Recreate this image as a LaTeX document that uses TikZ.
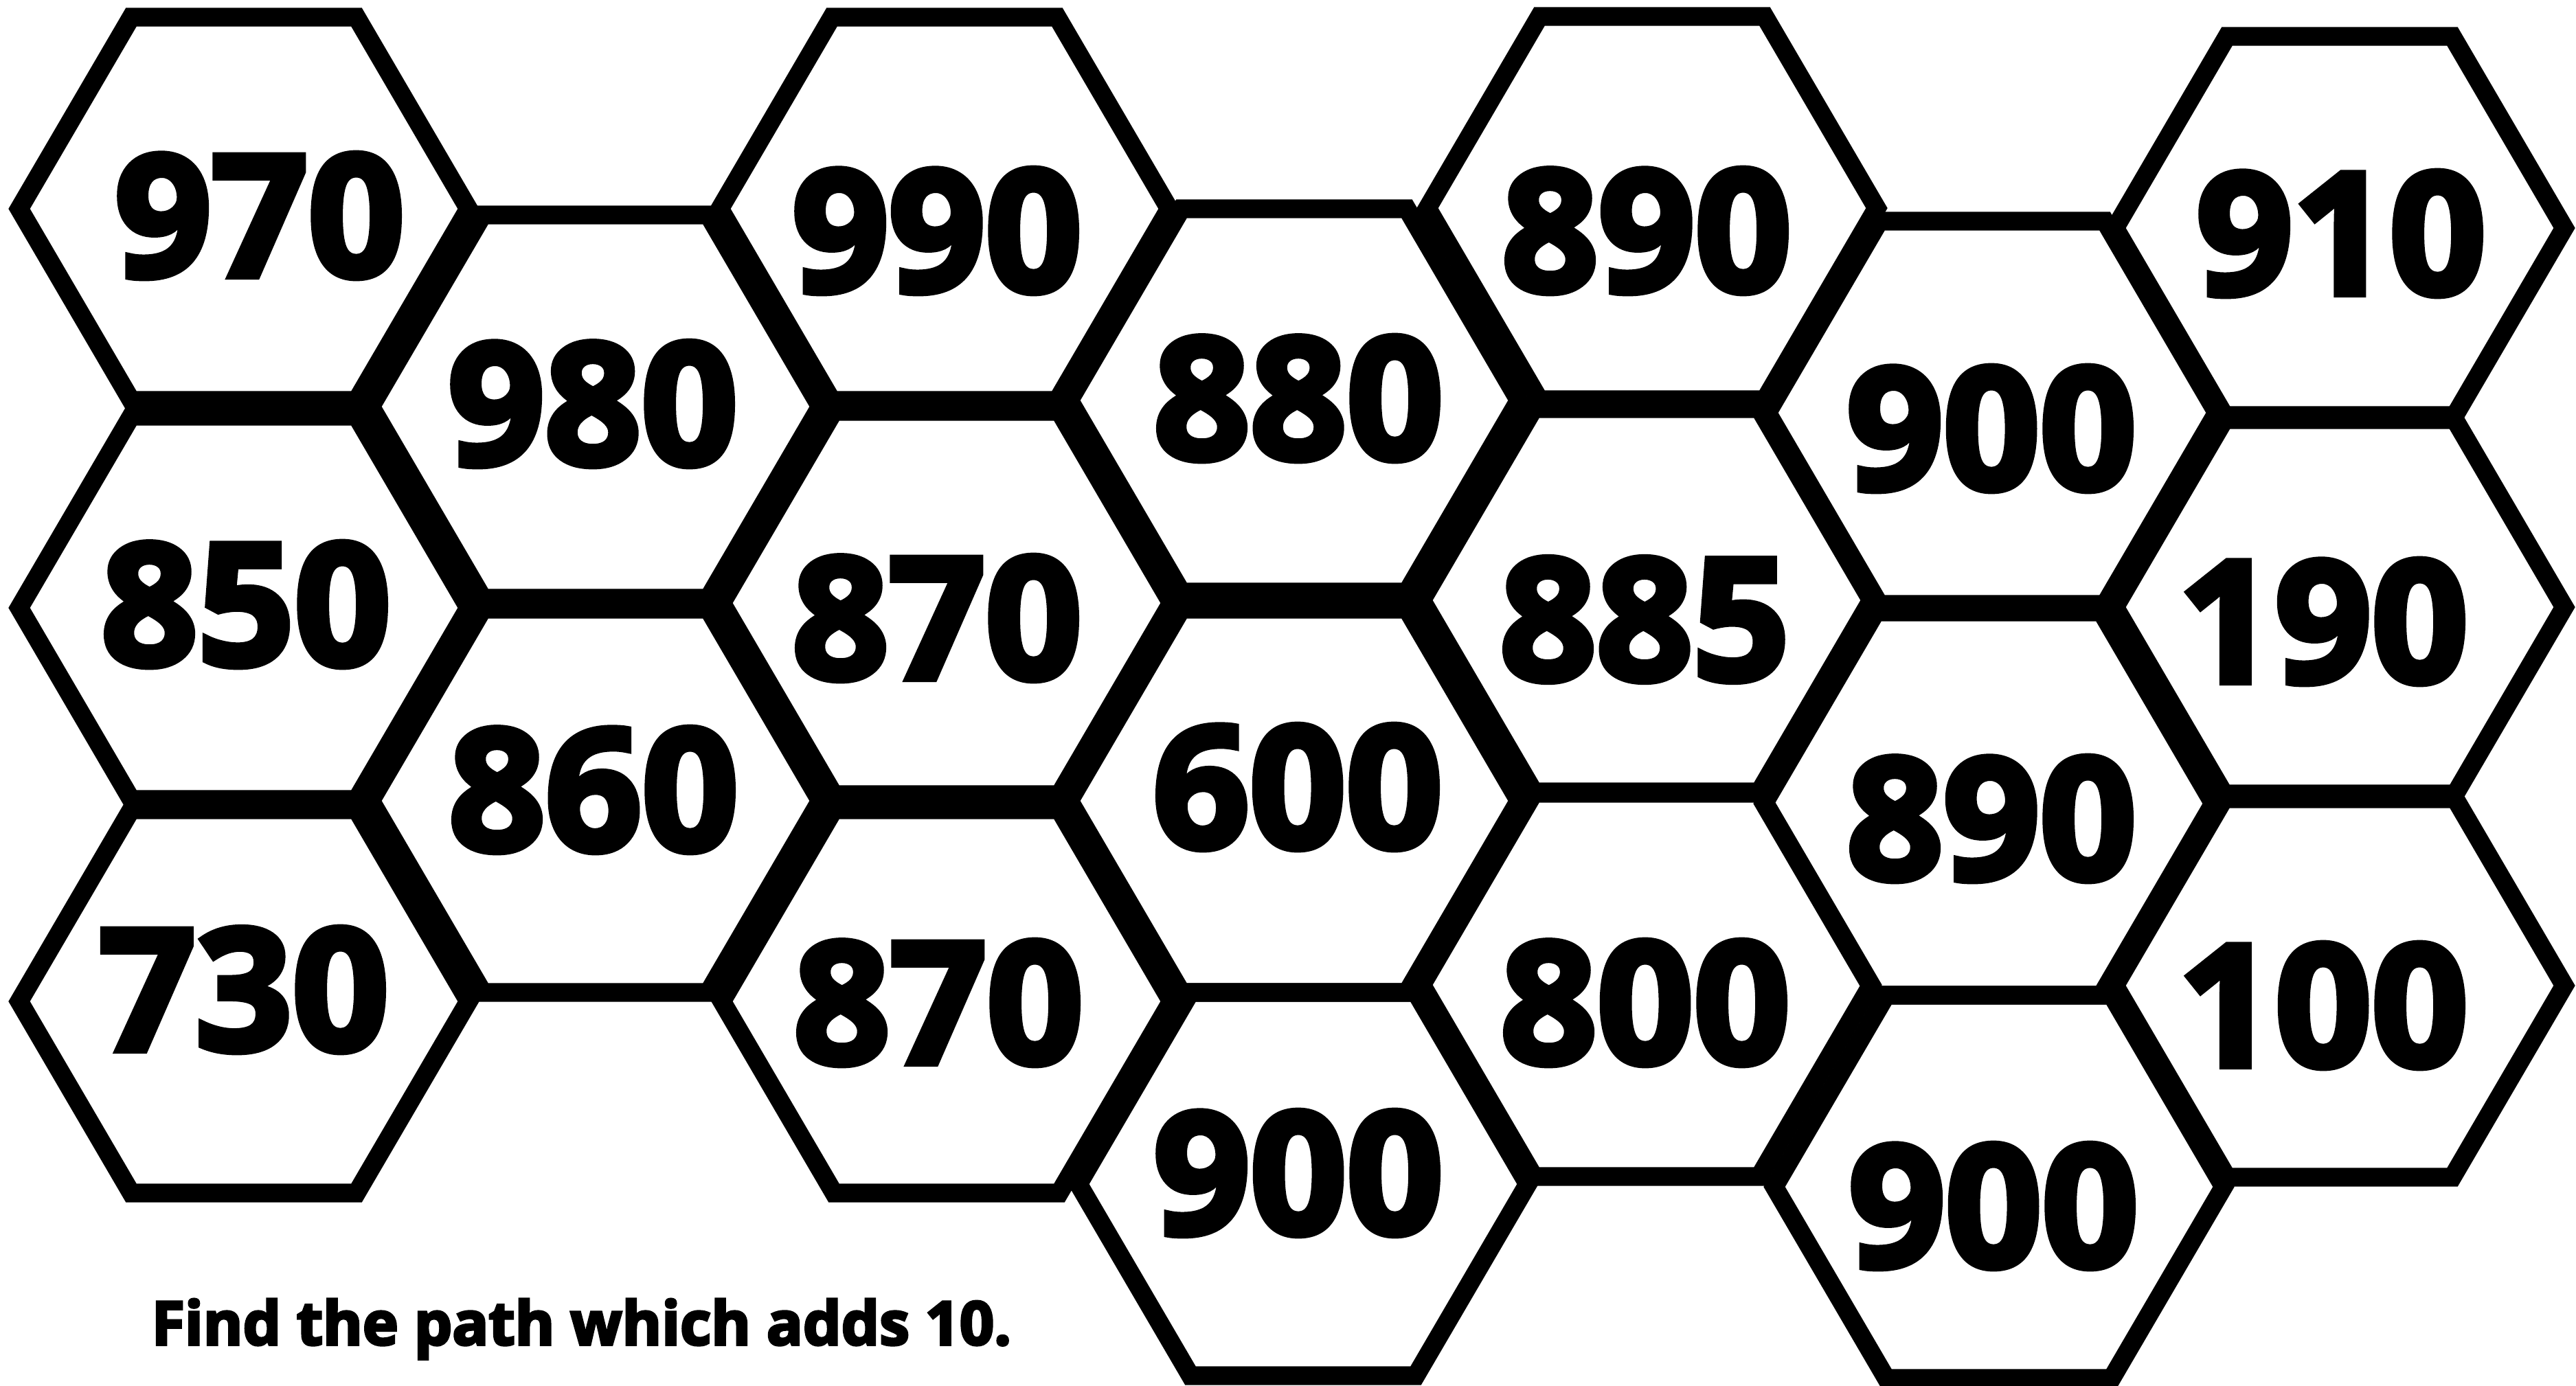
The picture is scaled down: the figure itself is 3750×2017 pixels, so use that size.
\documentclass[tikz,border=0pt]{standalone}
\usepackage{fontspec}
\setmainfont{Open Sans}[BoldFeatures={FakeBold=4}]
\usepackage{tikz}

\begin{document}
\begin{tikzpicture}[
  x=0.01cm, y=-0.01cm,
  hexcell/.style={draw=black,line width=7.7pt,line join=miter},
  num/.style={inner sep=0pt,font=\fontsize{70}{70}\selectfont\bfseries},
  caption/.style={inner sep=0pt,font=\fontsize{25}{25}\selectfont\bfseries},
]
\useasboundingbox (0,0) rectangle (3750,2017);

% honeycomb cells, one per centre
\foreach \cx/\cy in {355/304, 355/885, 355/1458,
                     867/592, 867/1166,
                     1375/304, 1378/878, 1378/1458,
                     1884/583, 1884/1166, 1897/1724,
                     2405/303, 2397/874, 2397/1434,
                     2900/601, 2895/1170, 2910/1728,
                     3406/332, 3406/884, 3406/1435}
  \draw[hexcell] (\cx-327,\cy) -- (\cx-164,\cy-279) -- (\cx+164,\cy-279)
    -- (\cx+327,\cy) -- (\cx+164,\cy+279) -- (\cx-164,\cy+279) -- cycle;

% numbers
\node[num] (n970)  at (378,314)   {970};
\node[num] (n850)  at (358,880)   {850};
\node[num] (n730)  at (355,1441)  {730};
\node[num] (n980)  at (863,588)   {980};
\node[num] (n860)  at (864,1150)  {860};
\node[num] (n990)  at (1364,336)  {990};
\node[num] (n870a) at (1364,900)  {870};
\node[num] (n870b) at (1366,1460) {870};
\node[num] (n880)  at (1890,580)  {880};
\node[num] (n600)  at (1889,1146) {600};
\node[num] (n900a) at (1890,1708) {900};
\node[num] (n890a) at (2397,336)  {890};
\node[num] (n885)  at (2394,902)  {885};
\node[num] (n800)  at (2395,1460) {800};
\node[num] (n900b) at (2899,624)  {900};
\node[num] (n890b) at (2899,1192) {890};
\node[num] (n900c) at (2902,1756) {900};
\node[num] (n910)  at (3408,340)  {910};
\node[num] (n190)  at (3382,905)  {190};
\node[num] (n100)  at (3382,1464) {100};

\node[caption,anchor=base west] (task) at (220,1958) {Find the path which adds 10.};

\end{tikzpicture}
\end{document}
